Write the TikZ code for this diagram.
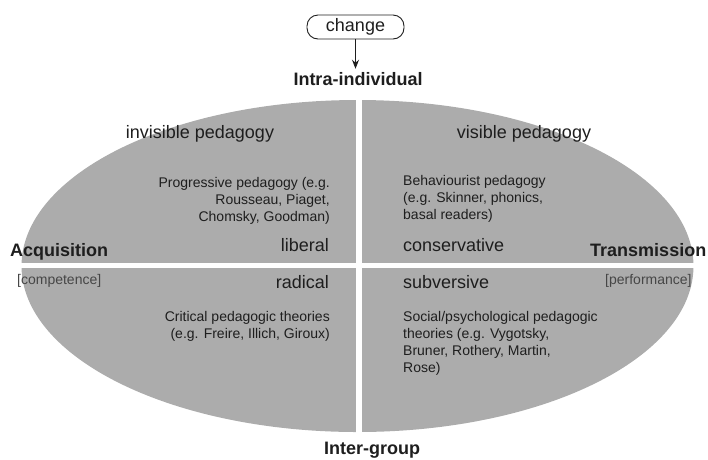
\documentclass[tikz,border=0pt]{standalone}
\usepackage{fontspec}
\setmainfont{Liberation Sans}
\usepackage{xcolor}
\usetikzlibrary{arrows.meta}

\definecolor{ovalgray}{RGB}{172,172,172}
\definecolor{inkgray}{RGB}{30,30,30}
\definecolor{taggray}{RGB}{70,70,70}

\tikzset{
  polename/.style={font=\bfseries\fontsize{18}{21}\selectfont, text=inkgray, inner sep=0pt},
  poletag/.style={font=\fontsize{14}{16}\selectfont, text=taggray, inner sep=0pt},
  quadtitle/.style={font=\fontsize{18}{21}\selectfont, text=inkgray, inner sep=0pt},
  quadnote/.style={font=\fontsize{14}{17}\selectfont, text=inkgray, inner sep=0pt},
  changebox/.style={draw=inkgray, line width=0.9pt, rounded corners=11pt, minimum width=97pt,
    minimum height=24pt, inner sep=0pt, font=\fontsize{18}{21}\selectfont, text=inkgray},
}

\begin{document}
\begin{tikzpicture}[x=1pt,y=-1pt]
  \useasboundingbox (0,0) rectangle (708,459);
  % Oval
  \fill[ovalgray] (357.5,266) ellipse [x radius=336, y radius=166];
  % White cross
  \draw[white, line width=6pt] (358.5,92) -- (358.5,440);
  \draw[white, line width=5pt] (10,265.5) -- (700,265.5);
  % Change and axis labels
  \node[changebox] (chg) at (355.5,27) {change};
  \node[polename, anchor=base] (intra) at (358,85) {Intra-individual};
  \node[polename, anchor=base] (inter) at (372,454) {Inter-group};
  \draw[inkgray, line width=0.9pt, -{Stealth[length=9pt,width=7pt]}]
    (chg.south) -- ([yshift=3pt]chg.south |- intra.north);
  \node[polename, anchor=base west] (acq) at (10,256.5) {Acquisition};
  \node[poletag, anchor=base west] (comp) at (17,284) {[competence]};
  \node[polename, anchor=base west] (trans) at (590,256.5) {Transmission};
  \node[poletag, anchor=base west] (perf) at (605,284) {[performance]};
  % Quadrant titles
  \node[quadtitle, anchor=base] (invis) at (200,138) {invisible pedagogy};
  \node[quadtitle, anchor=base] (vis) at (524,138) {visible pedagogy};
  \node[quadtitle, anchor=base east] (lib) at (329,251.5) {liberal};
  \node[quadtitle, anchor=base east] (rad) at (329,288) {radical};
  \node[quadtitle, anchor=base west] (cons) at (403,251.5) {conservative};
  \node[quadtitle, anchor=base west] (subv) at (403,288) {subversive};
  % Quadrant notes (base = last line)
  \node[quadnote, anchor=base east, align=right] (prog) at (330,221)
    {Progressive pedagogy (e.g.\\Rousseau, Piaget,\\Chomsky, Goodman)};
  \node[quadnote, anchor=base west, align=left] (behav) at (403,219)
    {Behaviourist pedagogy\\(e.g. Skinner, phonics,\\basal readers)};
  \node[quadnote, anchor=base east, align=right] (crit) at (330,338.5)
    {Critical pedagogic theories\\(e.g. Freire, Illich, Giroux)};
  \node[quadnote, anchor=base west, align=left] (soc) at (403,372)
    {Social/psychological pedagogic\\theories (e.g. Vygotsky,\\Bruner, Rothery, Martin,\\Rose)};
\end{tikzpicture}
\end{document}
